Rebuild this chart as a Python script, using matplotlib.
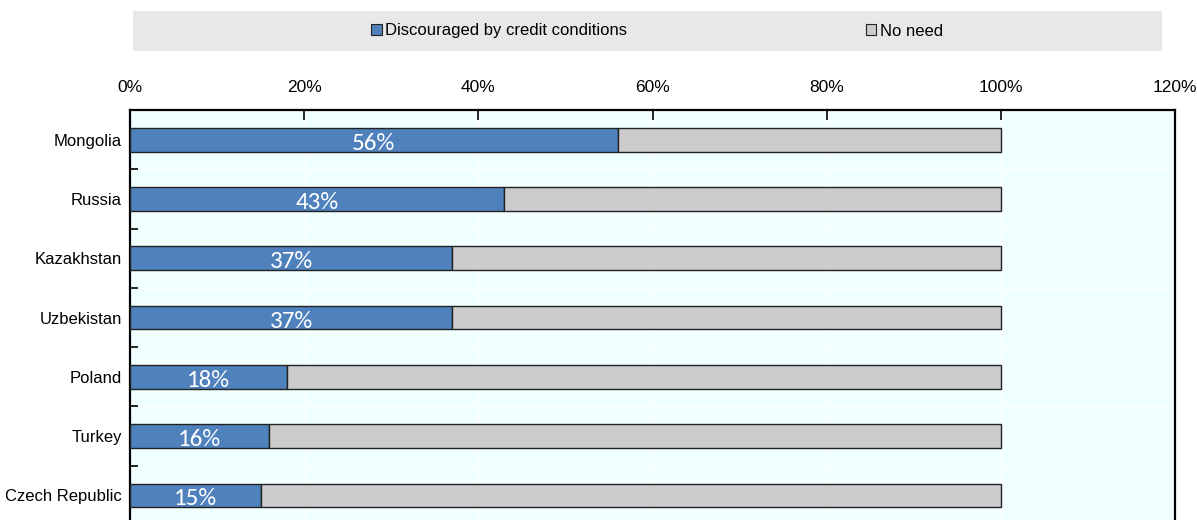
import matplotlib
matplotlib.use("Agg")
import matplotlib.pyplot as plt
from matplotlib.patches import Rectangle, Patch
from matplotlib.ticker import FixedLocator, FuncFormatter

countries = ["Mongolia", "Russia", "Kazakhstan", "Uzbekistan", "Poland", "Turkey", "Czech Republic"]
discouraged = [56, 43, 37, 37, 18, 16, 15]
no_need = [44, 57, 63, 63, 82, 84, 85]
series_names = ["Discouraged by credit conditions", "No need"]
x_ticks = [0, 20, 40, 60, 80, 100, 120]

narrow = ["Liberation Sans Narrow", "Liberation Sans", "DejaVu Sans"]
plt.rcParams['font.family'] = narrow

W, H = 1197, 520
fig = plt.figure(figsize=(W / 100, H / 100), dpi=100)
ax_left, ax_right, ax_top, ax_bottom = 130, 1175, 110, 525
ax = fig.add_axes([ax_left / W, 1 - ax_bottom / H, (ax_right - ax_left) / W, (ax_bottom - ax_top) / H])
ax.set_facecolor("#F0FFFF")

ypos = list(range(len(countries)))
blue = "#4F81BD"
grey = "#CCCCCC"
ax.barh(ypos, discouraged, height=0.4, color=blue, edgecolor="#222222", linewidth=1.0, zorder=3)
ax.barh(ypos, no_need, left=discouraged, height=0.4, color=grey, edgecolor="#222222", linewidth=1.0, zorder=3)

for y, v in zip(ypos, discouraged):
    ax.text(v / 2, y + 0.06, f"{v}%", ha="center", va="center", color="white",
            fontsize=18, family=["Carlito", "Open Sans", "DejaVu Sans"], zorder=4)

ax.set_xlim(0, 120)
ax.set_ylim(len(countries) - 0.5, -0.5)
ax.xaxis.set_major_locator(FixedLocator(x_ticks))
ax.xaxis.set_major_formatter(FuncFormatter(lambda v, p: f"{v:.0f}%"))
ax.xaxis.tick_top()
ax.tick_params(axis="x", direction="in", length=7, width=1.2, labelsize=12.5, pad=11, colors="black")
ax.set_yticks(ypos)
ax.set_yticklabels(countries, fontsize=12)
ax.tick_params(axis="y", which="major", length=0, pad=6)
ax.set_yticks([i + 0.5 for i in ypos[:-1]], minor=True)
ax.tick_params(axis="y", which="minor", direction="in", length=6, width=1.2)

ax.grid(True, axis="x", which="major", color="white", linewidth=1.0, zorder=0)
ax.grid(True, axis="y", which="minor", color="white", linewidth=1.0, zorder=0)
ax.set_axisbelow(True)

for s in ["top", "left", "right"]:
    ax.spines[s].set_linewidth(1.6)
    ax.spines[s].set_color("black")
ax.spines["bottom"].set_visible(False)

fig.patches.append(Rectangle((133 / W, 1 - 51 / H), (1162 - 133) / W, 40 / H,
                             transform=fig.transFigure, facecolor="#E8E8E8", edgecolor="none", zorder=0))
handles = [Patch(facecolor=blue, edgecolor="#222222", linewidth=0.8),
           Patch(facecolor=grey, edgecolor="#222222", linewidth=0.8)]
fig.legend(handles, series_names, loc="center", bbox_to_anchor=(657 / W, 1 - 31 / H), ncol=2,
           frameon=False, fontsize=12, handlelength=0.65, handleheight=0.65, handletextpad=0.2,
           columnspacing=14.3)

fig.savefig("out.png", dpi=100)
